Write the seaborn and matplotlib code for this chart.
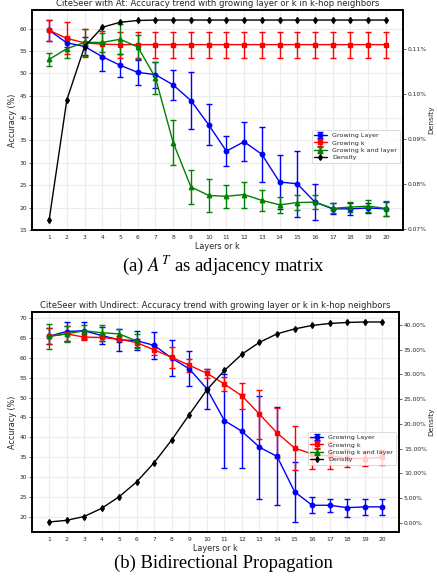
import matplotlib
matplotlib.use('Agg')
import matplotlib.pyplot as plt
import seaborn as sns
from matplotlib.ticker import PercentFormatter, MultipleLocator

# layers / k on the x axis
layers = [1, 2, 3, 4, 5, 6, 7, 8, 9, 10, 11, 12, 13, 14, 15, 16, 17, 18, 19, 20]

# (a) CiteSeer with At
at_layer = [59.6, 56.8, 56.0, 53.7, 51.8, 50.2, 49.7, 47.4, 43.9, 38.5,
            32.6, 34.7, 31.9, 25.7, 25.3, 21.2, 19.7, 19.7, 19.9, 19.7]
at_layer_err = [2.3, 1.0, 2.0, 3.1, 2.6, 2.8, 2.9, 3.4, 6.3, 4.6,
                3.3, 4.4, 6.2, 6.0, 7.4, 4.0, 1.2, 1.4, 1.2, 1.5]
at_k = [59.6, 57.8, 56.8, 56.5, 56.4, 56.4, 56.4, 56.4, 56.4, 56.4,
        56.4, 56.4, 56.4, 56.4, 56.4, 56.4, 56.4, 56.4, 56.4, 56.4]
at_k_err = [2.3, 3.6, 3.1, 2.9, 2.9, 2.9, 2.9, 2.9, 2.9, 2.9,
            2.9, 2.9, 2.9, 2.9, 2.9, 2.9, 2.9, 2.9, 2.9, 2.9]
at_kl = [53.1, 55.5, 56.9, 56.9, 57.6, 55.9, 49.0, 34.5, 24.6, 22.7,
         22.5, 22.9, 21.6, 20.6, 21.1, 21.2, 19.8, 20.1, 20.3, 19.8]
at_kl_err = [1.4, 2.0, 3.1, 2.1, 3.4, 2.7, 3.6, 5.0, 3.8, 3.6,
             2.5, 2.9, 2.3, 1.8, 1.7, 1.6, 1.1, 1.2, 1.3, 1.7]
at_density = [0.0720, 0.0987, 0.1105, 0.1148, 0.1159, 0.1163, 0.1164, 0.1164, 0.1164, 0.1164,
              0.1164, 0.1164, 0.1164, 0.1164, 0.1164, 0.1164, 0.1164, 0.1164, 0.1164, 0.1164]

# (b) CiteSeer with Undirect
un_layer = [65.4, 66.6, 66.8, 65.6, 64.5, 64.3, 63.1, 59.9, 57.2, 52.2,
            44.2, 41.5, 37.5, 35.2, 26.3, 22.9, 22.9, 22.3, 22.5, 22.5]
un_layer_err = [2.0, 2.4, 2.2, 2.1, 2.8, 2.4, 3.3, 4.5, 4.4, 5.0,
                11.8, 9.3, 13.0, 12.3, 7.6, 2.0, 1.7, 2.3, 2.1, 2.1]
un_k = [65.4, 66.0, 65.2, 65.1, 64.7, 63.8, 62.0, 60.1, 58.1, 56.1,
        53.4, 50.4, 45.8, 41.1, 37.3, 35.8, 35.3, 34.8, 34.6, 35.0]
un_k_err = [2.0, 1.9, 0.8, 0.8, 0.8, 1.0, 1.3, 2.6, 1.7, 1.1,
            1.8, 3.2, 6.2, 6.3, 5.6, 3.9, 3.4, 2.3, 1.8, 1.9]
un_kl_layers = [1, 2, 3, 4, 5, 6]
un_kl = [65.4, 66.0, 66.8, 66.3, 66.0, 64.2]
un_kl_err = [3.2, 2.0, 1.5, 2.0, 1.3, 1.7]
un_density = [0.2, 0.53, 1.3, 2.95, 5.3, 8.3, 12.2, 16.8, 21.9, 26.9,
              30.8, 34.1, 36.5, 38.2, 39.2, 39.9, 40.3, 40.5, 40.6, 40.6]

sns.set_style('whitegrid', {'axes.edgecolor': 'black', 'grid.color': '#ececec'})
plt.rcParams['font.family'] = ['DejaVu Sans']
plt.rcParams['mathtext.fontset'] = 'stix'

fig = plt.figure(figsize=(4.37, 5.80), dpi=100)


def panel(rect, title, layer, layer_err, k, k_err, kl_x, kl, kl_err, density, dens_step):
    ax = fig.add_axes(rect)
    eb = dict(capsize=2, elinewidth=1.0, markersize=3.2, linewidth=1.0, capthick=1.0)
    ax.errorbar(layers, layer, yerr=layer_err, color='blue', marker='o', label='Growing Layer', **eb)
    ax.errorbar(layers, k, yerr=k_err, color='red', marker='s', label='Growing k', **eb)
    ax.errorbar(kl_x, kl, yerr=kl_err, color='green', marker='^', label='Growing k and layer', **eb)
    ax.set_xticks(layers)
    ax.yaxis.set_major_locator(MultipleLocator(5))
    ax.tick_params(labelsize=4.3, length=2, width=0.6, color='.3', pad=1.5)
    ax.set_xlabel('Layers or k', fontsize=5.8, labelpad=1.5)
    ax.set_ylabel('Accuracy (%)', fontsize=5.8, labelpad=2)
    ax.set_title(title, fontsize=6.1, pad=3)
    for s in ax.spines.values():
        s.set_linewidth(1.2)

    ax2 = ax.twinx()
    ax2.grid(False)
    ax2.plot(layers, density, color='black', marker='d', markersize=3, linewidth=1.0, label='Density')
    ax2.yaxis.set_major_locator(MultipleLocator(dens_step))
    ax2.yaxis.set_major_formatter(PercentFormatter(xmax=100, decimals=2))
    ax2.tick_params(labelsize=4.3, length=2, width=0.6, color='.3', pad=1.5)
    ax2.set_ylabel('Density', fontsize=5.4)
    # keep the right-hand label inside the canvas, centred at x ~ 431 px
    fig_w = fig.get_figwidth() * fig.dpi
    ax2.yaxis.set_label_coords((431 - rect[0] * fig_w) / (rect[2] * fig_w), 0.5)
    ax2.yaxis.label.set_verticalalignment('center')
    for s in ax2.spines.values():
        s.set_linewidth(1.2)

    h1, l1 = ax.get_legend_handles_labels()
    h2, l2 = ax2.get_legend_handles_labels()
    leg = ax2.legend(h1 + h2, l1 + l2, loc='lower right', bbox_to_anchor=(1.0, 0.29),
                     fontsize=4.6, frameon=True, framealpha=0.8, handlelength=2.0,
                     borderpad=0.4, labelspacing=0.3)
    leg.get_frame().set_edgecolor('#cccccc')
    leg.get_frame().set_linewidth(0.6)
    return ax, ax2


panel([0.0739, 0.6034, 0.8476, 0.3793],
      'CiteSeer with At: Accuracy trend with growing layer or k in k-hop neighbors',
      at_layer, at_layer_err, at_k, at_k_err, layers, at_kl, at_kl_err, at_density, 0.01)

panel([0.0739, 0.0828, 0.8391, 0.3793],
      'CiteSeer with Undirect: Accuracy trend with growing layer or k in k-hop neighbors',
      un_layer, un_layer_err, un_k, un_k_err, un_kl_layers, un_kl, un_kl_err, un_density, 5)

fig.text(0.511, 0.543, '(a) $A^T$ as adjacency matrix', ha='center', va='center',
         fontsize=13.5, family='Liberation Serif', color='black')
fig.text(0.511, 0.0287, '(b) Bidirectional Propagation', ha='center', va='center',
         fontsize=13.4, family='Liberation Serif', color='black')

fig.savefig('out.png', dpi=100)
